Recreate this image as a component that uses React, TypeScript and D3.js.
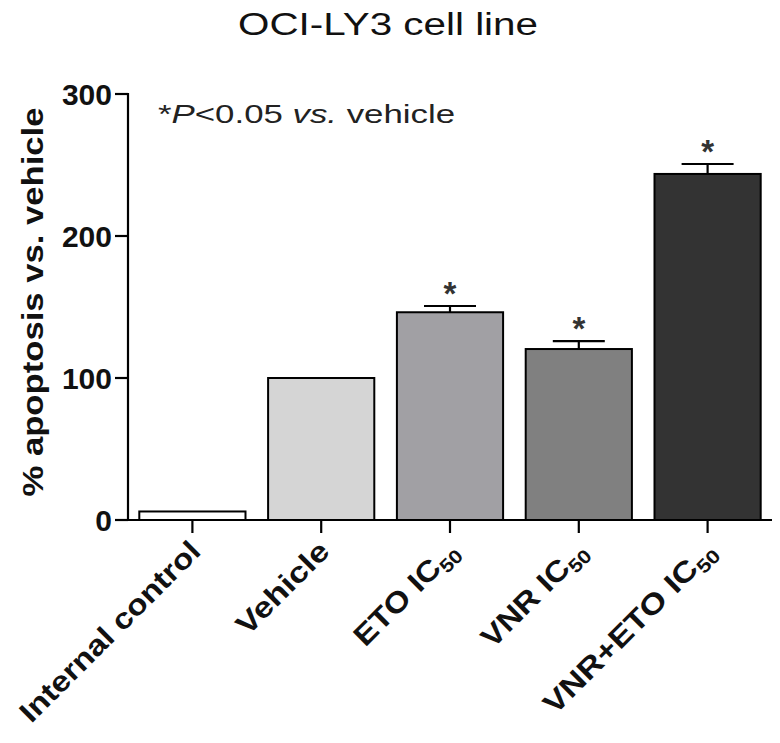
import React from "react";
import * as d3 from "d3";

const categories = ["Internal control", "Vehicle", "ETO IC", "VNR IC", "VNR+ETO IC"];
const subscripts = ["", "", "50", "50", "50"];
const labelLengths = [242, 118, 134, 136, 230];
const values = [6, 100, 146.3, 120.4, 243.7];
const errors = [0, 0, 4.4, 5.6, 7];
const significant = [false, false, true, true, true];
const fills = ["#ffffff", "#d5d5d5", "#a1a0a4", "#808080", "#333333"];
const yTicks = [0, 100, 200, 300];
const title = "OCI-LY3 cell line";
const yTitle = "% apoptosis vs. vehicle";

const FONT = "'Liberation Sans', Arial, Helvetica, sans-serif";

export default function App() {
  const W = 780;
  const H = 743;
  const x = d3
    .scaleBand<string>()
    .domain(categories)
    .range([128, 772])
    .paddingInner(0.16)
    .paddingOuter(0.08);
  const y = d3.scaleLinear().domain([0, 300]).range([520, 94]);
  const bw = x.bandwidth();
  const y0 = y(0);

  return (
    <svg
      width={W}
      height={H}
      style={{ position: "absolute", left: 0, top: 0, background: "#fff" }}
      fontFamily={FONT}
    >
      <rect x={0} y={0} width={W} height={H} fill="#fff" />
      {/* title */}
      <text x={238} y={35} fontSize={31} textLength={300} lengthAdjust="spacingAndGlyphs" fill="#111">
        {title}
      </text>
      {/* annotation */}
      <text x={158} y={123} fontSize={25} textLength={297} lengthAdjust="spacingAndGlyphs" fill="#222">
        <tspan>*</tspan>
        <tspan fontStyle="italic">P</tspan>
        <tspan>{"<0.05 "}</tspan>
        <tspan fontStyle="italic">vs.</tspan>
        <tspan>{" vehicle"}</tspan>
      </text>
      {/* y title */}
      <text
        transform={`translate(43,302) rotate(-90)`}
        textAnchor="middle"
        fontSize={30}
        fontWeight="bold"
        textLength={389}
        lengthAdjust="spacingAndGlyphs"
        fill="#111"
      >
        {yTitle}
      </text>

      {/* bars */}
      {categories.map((c, i) => {
        const cx = (x(c) as number) + bw / 2;
        return (
          <g key={c}>
            <rect
              x={(x(c) as number) + 1}
              y={y(values[i])}
              width={bw - 2}
              height={y0 - y(values[i])}
              fill={fills[i]}
              stroke="#000"
              strokeWidth={2}
            />
            {errors[i] > 0 && (
              <g stroke="#000" strokeWidth={2.2}>
                <line x1={cx} x2={cx} y1={y(values[i])} y2={y(values[i] + errors[i])} />
                <line x1={cx - 26} x2={cx + 26} y1={y(values[i] + errors[i])} y2={y(values[i] + errors[i])} />
              </g>
            )}
            {significant[i] && (
              <text
                x={cx}
                y={y(values[i] + errors[i]) - 1}
                textAnchor="middle"
                fontSize={33}
                fontWeight="bold"
                fill="#333"
              >
                *
              </text>
            )}
          </g>
        );
      })}

      {/* axes */}
      <g stroke="#000" strokeWidth={2.2}>
        <line x1={128} x2={128} y1={y(300) - 1} y2={y0 + 1} />
        <line x1={127} x2={772} y1={y0} y2={y0} />
        {yTicks.map((t) => (
          <line key={t} x1={115} x2={128} y1={y(t)} y2={y(t)} />
        ))}
        {categories.map((c) => {
          const cx = (x(c) as number) + bw / 2;
          return <line key={c} x1={cx} x2={cx} y1={y0} y2={y0 + 13} />;
        })}
      </g>
      {yTicks.map((t) => (
        <text
          key={t}
          x={112}
          y={y(t)}
          dy="0.36em"
          textAnchor="end"
          fontSize={30}
          fontWeight="bold"
          fill="#111"
        >
          {t}
        </text>
      ))}
      {categories.map((c, i) => {
        const cx = (x(c) as number) + bw / 2;
        return (
          <text
            key={c}
            transform={`translate(${cx + 10},${y0 + 33}) rotate(-45)`}
            textAnchor="end"
            fontSize={29}
            fontWeight="bold"
            textLength={labelLengths[i]}
            lengthAdjust="spacingAndGlyphs"
            fill="#111"
          >
            {c}
            {subscripts[i] && (
              <tspan fontSize={19} dy={6}>
                {subscripts[i]}
              </tspan>
            )}
          </text>
        );
      })}
    </svg>
  );
}
